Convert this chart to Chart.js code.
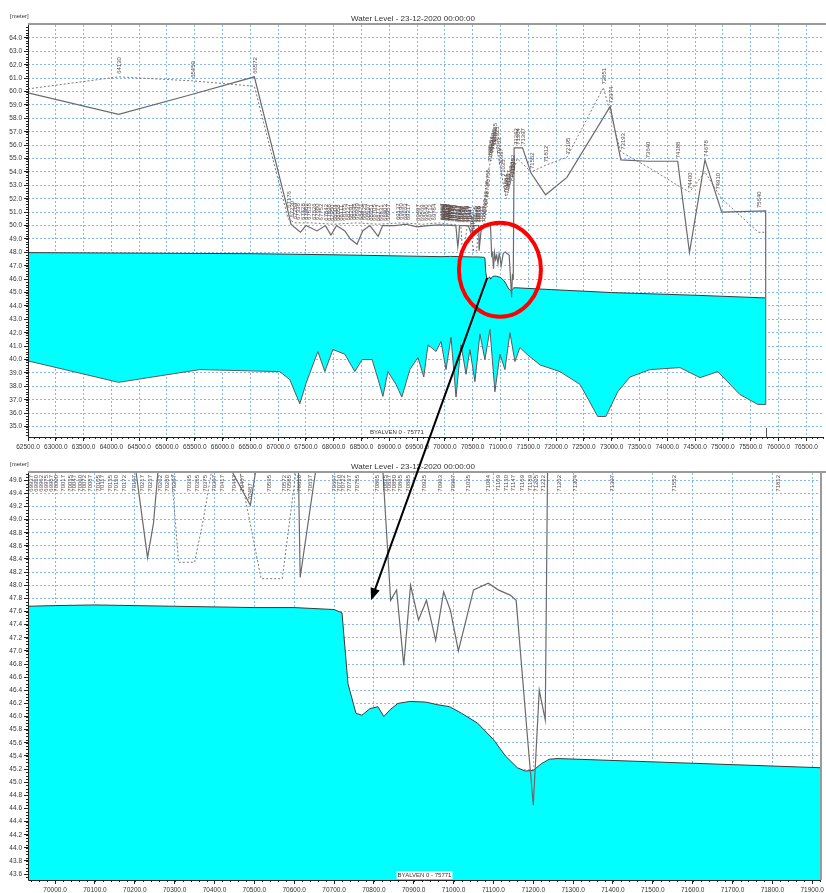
<!DOCTYPE html>
<html>
<head>
<meta charset="utf-8">
<script src="https://cdn.jsdelivr.net/npm/chart.js@4.4.1/dist/chart.umd.min.js"></script>
<style>
  body { margin: 0; background: #fff; }
  #wrap { position: relative; width: 826px; height: 893px; }
  #wrap canvas { position: absolute; left: 0; }
</style>
</head>
<body>
<div id="wrap">
  <canvas id="overview" width="826" height="455" style="top:0"></canvas>
  <canvas id="detail" width="826" height="438" style="top:455px"></canvas>
  <canvas id="marks" width="826" height="893" style="top:0"></canvas>
</div>
<script>
const TITLE = 'Water Level - 23-12-2020 00:00:00';
const BRANCH = 'BYALVEN 0 - 75771';
const branchEnd = 75771;

// water surface
const waterX = [62500, 64130, 66572, 68000, 69932, 70000, 70100, 70200, 70300, 70400, 70500, 70600, 70700, 70720, 70735, 70755, 70770, 70790, 70810, 70825, 70840, 70860, 70890, 70930, 70960, 70990, 71020, 71060, 71100, 71130, 71160, 71180, 71200, 71220, 71240, 71262, 71922, 73000, 74500, 75771];
const waterY = [47.98, 47.95, 47.9, 47.82, 47.68, 47.69, 47.70, 47.69, 47.68, 47.67, 47.66, 47.66, 47.63, 47.58, 46.5, 46.05, 46.02, 46.12, 46.15, 46.0, 46.1, 46.2, 46.23, 46.22, 46.18, 46.15, 46.05, 45.9, 45.65, 45.4, 45.22, 45.17, 45.18, 45.28, 45.35, 45.36, 45.22, 45.0, 44.8, 44.6];

// river bed
const bedX = [62500, 64130, 65590, 67030, 67210, 67390, 67500, 67715, 67840, 67985, 68200, 68380, 68510, 68690, 68800, 68885, 68975, 69120, 69225, 69370, 69515, 69620, 69695, 69840, 69930, 70020, 70110, 70200, 70290, 70380, 70450, 70540, 70630, 70720, 70810, 70900, 70990, 71080, 71170, 71260, 71350, 71475, 71710, 72070, 72430, 72750, 72895, 73110, 73330, 73690, 74230, 74590, 74910, 75305, 75630, 75771];
const bedY = [39.9, 38.3, 39.25, 39.1, 38.5, 36.7, 38.2, 40.6, 39.1, 40.75, 40.4, 39.1, 40.0, 40.0, 38.5, 37.25, 39.1, 38.15, 37.2, 39.25, 40.15, 38.7, 41.1, 40.6, 41.35, 39.25, 41.65, 37.2, 41.1, 38.9, 40.75, 38.35, 41.9, 40.0, 42.25, 37.6, 40.4, 39.25, 42.0, 39.85, 40.9, 40.4, 39.6, 39.1, 38.15, 35.75, 35.75, 37.6, 38.7, 39.25, 39.4, 38.65, 39.1, 37.4, 36.65, 36.65];

// left bank (solid)
const leftX = [62500, 64130, 65459, 66572, 67160, 67230, 67400, 67500, 67700, 67850, 67950, 68050, 68200, 68300, 68420, 68520, 68650, 68800, 68880, 69100, 69300, 69500, 69700, 69900, 70197, 70232, 70247, 70262, 70420, 70490, 70510, 70610, 70615, 70660, 70820, 70842, 70857, 70875, 70892, 70912, 70932, 70955, 70975, 70992, 71012, 71050, 71087, 71112, 71142, 71157, 71187, 71200, 71215, 71230, 71245, 71304, 71397, 71552, 71812, 72195, 72974, 73165, 73640, 74188, 74400, 74678, 74980, 75771, 75771];
const leftY = [59.9, 58.3, 59.8, 61.1, 51.4, 50.1, 49.5, 50.0, 49.6, 50.0, 49.3, 50.0, 49.6, 49.0, 48.6, 49.6, 50.0, 49.2, 50.0, 50.0, 50.1, 49.9, 50.0, 50.05, 50.0, 48.42, 48.95, 50.0, 50.0, 49.22, 50.0, 50.0, 48.12, 50.0, 50.0, 47.77, 47.93, 46.78, 48.0, 47.47, 47.77, 47.16, 47.9, 47.62, 47.0, 47.93, 48.03, 47.93, 47.85, 47.77, 45.57, 44.65, 46.4, 45.95, 55.8, 55.8, 55.8, 53.9, 52.3, 53.6, 58.9, 54.9, 54.8, 54.8, 48.0, 54.9, 51.0, 51.1, 36.65];

// right bank (dashed)
const rightX = [62500, 64130, 65459, 66572, 67180, 67300, 67600, 68000, 68400, 68800, 69200, 69600, 69900, 70288, 70310, 70350, 70372, 70400, 70455, 70517, 70570, 70610, 70700, 70780, 70900, 71100, 71300, 71552, 71812, 72195, 72851, 73165, 73640, 74188, 74400, 74678, 74980, 75640, 75771];
const rightY = [60.2, 61.1, 60.8, 60.4, 50.5, 50.2, 50.2, 50.1, 50.2, 50.1, 50.2, 50.1, 50.2, 50.0, 48.35, 48.35, 49.0, 50.0, 50.0, 48.1, 48.1, 50.0, 50.0, 54.0, 56.5, 52.0, 55.0, 54.0, 54.5, 55.1, 60.3, 55.5, 54.4, 53.0, 52.5, 54.0, 52.0, 49.5, 49.5];

// cross-section chainages
const stations = [64130, 65459, 66572, 67176, 67230, 67284, 67338, 67428, 67482, 67536, 67626, 67680, 67752, 67842, 67896, 67950, 68004, 68058, 68111, 68165, 68237, 68291, 68345, 68399, 68471, 68525, 68597, 68651, 68705, 68777, 68831, 68903, 68957, 69137, 69190, 69263, 69317, 69497, 69569, 69640, 69712, 69784, 69937, 69950, 69962, 69975, 69987, 70000, 70017, 70035, 70047, 70060, 70072, 70087, 70105, 70117, 70135, 70150, 70172, 70197, 70217, 70237, 70262, 70280, 70297, 70335, 70355, 70375, 70397, 70417, 70447, 70467, 70487, 70535, 70572, 70585, 70610, 70637, 70697, 70710, 70722, 70737, 70755, 70805, 70825, 70837, 70850, 70865, 70885, 70925, 70963, 70997, 71035, 71084, 71109, 71130, 71147, 71169, 71189, 71205, 71222, 71262, 71304, 71397, 71552, 71812, 72195, 72851, 72974, 73193, 73640, 74188, 74400, 74678, 74910, 75640];

// axis ticks
const overviewXTicks = [62500, 63000, 63500, 64000, 64500, 65000, 65500, 66000, 66500, 67000, 67500, 68000, 68500, 69000, 69500, 70000, 70500, 71000, 71500, 72000, 72500, 73000, 73500, 74000, 74500, 75000, 75500, 76000, 76500];
const overviewYTicks = [35, 36, 37, 38, 39, 40, 41, 42, 43, 44, 45, 46, 47, 48, 49, 50, 51, 52, 53, 54, 55, 56, 57, 58, 59, 60, 61, 62, 63, 64];
const detailXTicks = [70000, 70100, 70200, 70300, 70400, 70500, 70600, 70700, 70800, 70900, 71000, 71100, 71200, 71300, 71400, 71500, 71600, 71700, 71800, 71900];
const detailYTicks = [43.6, 43.8, 44.0, 44.2, 44.4, 44.6, 44.8, 45.0, 45.2, 45.4, 45.6, 45.8, 46.0, 46.2, 46.4, 46.6, 46.8, 47.0, 47.2, 47.4, 47.6, 47.8, 48.0, 48.2, 48.4, 48.6, 48.8, 49.0, 49.2, 49.4, 49.6];

const pts = (xs, ys) => xs.map((x, i) => ({ x: x, y: ys[i] }));

function interp(xs, ys, s) {
  if (s <= xs[0]) return ys[0];
  for (let i = 1; i < xs.length; i++) {
    if (s <= xs[i]) {
      const t = xs[i] === xs[i - 1] ? 0 : (s - xs[i - 1]) / (xs[i] - xs[i - 1]);
      return ys[i - 1] + t * (ys[i] - ys[i - 1]);
    }
  }
  return ys[ys.length - 1];
}

const FONT = 'Liberation Sans, Arial, sans-serif';
const GRID = '#86b9f3';

// header text, frame, minor ticks, chainage labels, branch name
const profileDecor = {
  id: 'profileDecor',
  beforeDraw(chart) {
    const { ctx, chartArea: a } = chart;
    ctx.save();
    ctx.fillStyle = '#fff';
    ctx.fillRect(0, 0, chart.width, chart.height);
    ctx.fillStyle = '#333';
    ctx.font = '6px ' + FONT;
    ctx.textBaseline = 'alphabetic';
    ctx.fillText('[meter]', 10, a.top - 7);
    ctx.font = '8px ' + FONT;
    ctx.textAlign = 'center';
    ctx.fillText(TITLE, 413, a.top - 4);
    ctx.restore();
  },
  afterDatasetsDraw(chart, args, opts) {
    const { ctx, chartArea: a, scales: { x, y } } = chart;
    ctx.save();
    ctx.beginPath();
    ctx.rect(a.left, a.top, a.right - a.left, a.bottom - a.top);
    ctx.clip();
    ctx.font = opts.labelFont + 'px ' + FONT;
    ctx.fillStyle = '#5a4b48';
    ctx.textBaseline = 'bottom';
    ctx.textAlign = 'left';
    stations.forEach(s => {
      if (s < x.min || s > x.max) return;
      const label = String(s);
      const w = ctx.measureText(label).width;
      const bank = Math.max(interp(leftX, leftY, s), interp(rightX, rightY, s));
      let py = y.getPixelForValue(bank) - 3;
      if (py - w < a.top + 2) py = a.top + 2 + w;
      ctx.save();
      ctx.translate(x.getPixelForValue(s) + 4, py);
      ctx.rotate(-Math.PI / 2);
      ctx.fillText(label, 0, 0);
      ctx.restore();
    });
    ctx.restore();

    ctx.save();
    // frame
    ctx.strokeStyle = '#9a9a9a';
    ctx.lineWidth = 2;
    ctx.beginPath();
    ctx.moveTo(a.left, a.top - 1);
    ctx.lineTo(chart.width, a.top - 1);
    ctx.stroke();
    if (opts.rightFrame) {
      ctx.beginPath();
      ctx.moveTo(a.right, a.top);
      ctx.lineTo(a.right, a.bottom);
      ctx.stroke();
    }
    ctx.strokeStyle = '#222';
    ctx.lineWidth = 1;
    ctx.beginPath();
    ctx.moveTo(a.left + 0.5, a.top);
    ctx.lineTo(a.left + 0.5, a.bottom + 0.5);
    ctx.lineTo(a.right, a.bottom + 0.5);
    ctx.stroke();
    // minor ticks
    ctx.beginPath();
    for (let v = Math.ceil(y.min / opts.yMinor) * opts.yMinor; v <= y.max; v += opts.yMinor) {
      const py = Math.round(y.getPixelForValue(v)) + 0.5;
      ctx.moveTo(a.left - 2, py);
      ctx.lineTo(a.left, py);
    }
    for (let v = Math.ceil(x.min / opts.xMinor) * opts.xMinor; v <= x.max; v += opts.xMinor) {
      const px = Math.round(x.getPixelForValue(v)) + 0.5;
      ctx.moveTo(px, a.bottom);
      ctx.lineTo(px, a.bottom + 2);
    }
    ctx.stroke();
    // branch end marker
    if (branchEnd <= x.max) {
      const px = Math.round(x.getPixelForValue(branchEnd)) + 0.5;
      ctx.strokeStyle = '#555';
      ctx.beginPath();
      ctx.moveTo(px, a.bottom - 9);
      ctx.lineTo(px, a.bottom);
      ctx.stroke();
    }
    // branch name, centred on the visible part of the branch
    const mid = (Math.max(x.min, 62500) + Math.min(x.max, branchEnd)) / 2;
    ctx.font = '6px ' + FONT;
    const tw = ctx.measureText(BRANCH).width;
    const bx = x.getPixelForValue(mid) - tw / 2;
    ctx.fillStyle = '#fff';
    ctx.fillRect(bx - 1, a.bottom - 9, tw + 2, 8);
    ctx.fillStyle = '#333';
    ctx.textBaseline = 'middle';
    ctx.fillText(BRANCH, bx, a.bottom - 5);
    ctx.restore();
  }
};

function makeProfile(id, cfg) {
  return new Chart(document.getElementById(id), {
    type: 'line',
    data: {
      datasets: [
        { label: 'bed', data: pts(bedX, bedY), borderColor: '#5a5a5a', borderWidth: 1, pointRadius: 0, fill: false, order: 2 },
        { label: 'water', data: pts(waterX, waterY), borderColor: '#3a3a3a', borderWidth: 1, pointRadius: 0, backgroundColor: '#00ffff', fill: cfg.waterFill, order: 3 },
        { label: 'left bank', data: pts(leftX, leftY), borderColor: '#6a6a6a', borderWidth: 1.2, pointRadius: 0, fill: false, order: 1 },
        { label: 'right bank', data: pts(rightX, rightY), borderColor: '#7a7a7a', borderWidth: 1, borderDash: [2, 2], pointRadius: 0, fill: false, order: 0 }
      ]
    },
    options: {
      responsive: false,
      animation: false,
      events: [],
      layout: { padding: { top: cfg.padTop, right: 2, left: 0, bottom: 0 } },
      plugins: {
        legend: { display: false },
        tooltip: { enabled: false },
        profileDecor: { labelFont: 6, yMinor: cfg.yMinor, xMinor: cfg.xMinor, rightFrame: cfg.rightFrame }
      },
      scales: {
        x: {
          type: 'linear',
          min: cfg.xMin, max: cfg.xMax,
          afterBuildTicks: s => { s.ticks = cfg.xTicks.map(v => ({ value: v })); },
          afterFit: s => { s.height = cfg.xAxisHeight; },
          border: { display: false, dash: [2, 2] },
          grid: { color: GRID, tickColor: '#222', tickLength: 4, tickBorderDash: [] },
          ticks: { maxRotation: 0, autoSkip: false, padding: 2, color: '#333', font: { size: 6.5, family: FONT }, callback: v => v.toFixed(1) }
        },
        y: {
          type: 'linear',
          min: cfg.yMin, max: cfg.yMax,
          afterBuildTicks: s => { s.ticks = cfg.yTicks.map(v => ({ value: v })); },
          afterFit: s => { s.width = 28; },
          border: { display: false, dash: [2, 2] },
          grid: { color: GRID, tickColor: '#222', tickLength: 4, tickBorderDash: [] },
          ticks: { autoSkip: false, padding: 2, color: '#333', font: { size: 6.5, family: FONT }, callback: v => v.toFixed(1) }
        }
      }
    },
    plugins: [profileDecor]
  });
}

const overview = makeProfile('overview', {
  xMin: 62500, xMax: 76820, yMin: 34.22, yMax: 64.97,
  xTicks: overviewXTicks, yTicks: overviewYTicks,
  padTop: 25, xAxisHeight: 18, yMinor: 0.2, xMinor: 100,
  waterFill: 0, rightFrame: false
});

const detail = makeProfile('detail', {
  xMin: 69932, xMax: 71922, yMin: 43.51, yMax: 49.71,
  xTicks: detailXTicks, yTicks: detailYTicks,
  padTop: 18, xAxisHeight: 13, yMinor: 0.05, xMinor: 20,
  waterFill: 'start', rightFrame: true
});

// highlight ring on the overview and arrow into the detail view
(function () {
  const ctx = document.getElementById('marks').getContext('2d');
  const ox = overview.scales.x, oy = overview.scales.y;
  const dx = detail.scales.x, dy = detail.scales.y;
  const detailTop = 455;

  ctx.strokeStyle = '#ff0000';
  ctx.lineWidth = 4;
  ctx.beginPath();
  ctx.ellipse(ox.getPixelForValue(70990), oy.getPixelForValue(46.7), 41, 47, 0, 0, Math.PI * 2);
  ctx.stroke();

  const x0 = ox.getPixelForValue(70760), y0 = oy.getPixelForValue(46.1);
  const x1 = dx.getPixelForValue(70793), y1 = dy.getPixelForValue(47.77) + detailTop;
  const ang = Math.atan2(y1 - y0, x1 - x0);
  const head = 13;
  const ex = x1 - Math.cos(ang) * head * 0.8, ey = y1 - Math.sin(ang) * head * 0.8;
  ctx.strokeStyle = '#000';
  ctx.lineWidth = 2;
  ctx.beginPath();
  ctx.moveTo(x0, y0);
  ctx.lineTo(ex, ey);
  ctx.stroke();
  ctx.fillStyle = '#000';
  ctx.beginPath();
  ctx.moveTo(x1, y1);
  ctx.lineTo(x1 - head * Math.cos(ang - 0.38), y1 - head * Math.sin(ang - 0.38));
  ctx.lineTo(x1 - head * Math.cos(ang + 0.38), y1 - head * Math.sin(ang + 0.38));
  ctx.closePath();
  ctx.fill();
})();
</script>
</body>
</html>
